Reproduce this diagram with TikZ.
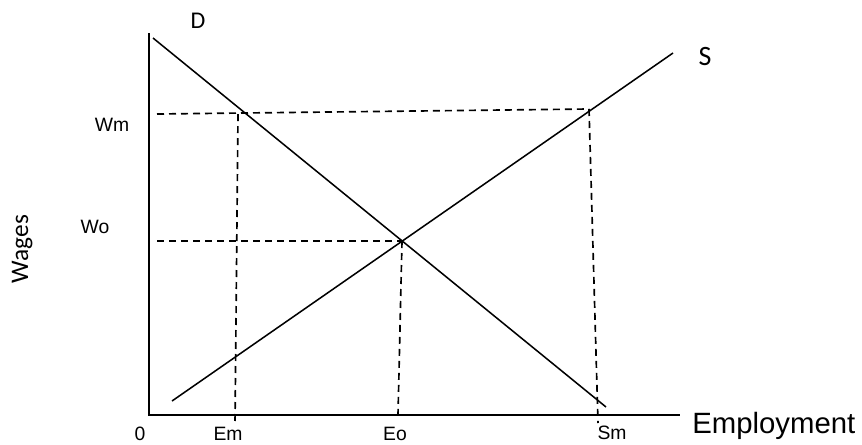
\documentclass[tikz,border=0pt]{standalone}
\usepackage{fontspec}
\setmainfont{Liberation Sans}
\newfontfamily\calfont{Carlito}
\begin{document}
\begin{tikzpicture}[x=0.75pt,y=-0.75pt,
    axis/.style={line width=1.5pt},
    curve/.style={line width=1.15pt},
    guide/.style={line width=1.25pt,dash pattern=on 5.25pt off 3.75pt},
    lbl/.style={inner sep=0pt,anchor=base,font=\fontsize{14.5}{17}\selectfont},
    curvelbl/.style={inner sep=0pt,anchor=base,font=\calfont\fontsize{18}{20}\selectfont}]
    \useasboundingbox (0,0) rectangle (862,444);
    % Axes
    \coordinate (top) at (149,33);
    \coordinate (origin) at (149,415);
    \coordinate (xend) at (680,415);
    \draw[axis] (top) -- (origin) -- (xend);
    % Demand and supply
    \coordinate (d1) at (153,38);
    \coordinate (d2) at (606,407);
    \coordinate (s1) at (172,401);
    \coordinate (s2) at (673,53);
    \draw[curve] (d1) -- (d2);
    \draw[curve] (s1) -- (s2);
    % Guide lines at the minimum wage
    \coordinate (wm1) at (157,114);
    \coordinate (wm2) at (589,109);
    \coordinate (em1) at (238,114);
    \coordinate (em2) at (235,425);
    \coordinate (sm2) at (598,423);
    \draw[guide] (wm1) -- (wm2);
    \draw[guide] (em1) -- (em2);
    \draw[guide] (wm2) -- (sm2);
    % Guide lines at the equilibrium
    \coordinate (eq) at (402,241);
    \coordinate (wo1) at (157,241);
    \coordinate (eo2) at (398,415);
    \draw[guide] (wo1) -- (eq);
    \draw[guide] (eq) -- (eo2);
    % Labels
    \node[curvelbl] (lD) at (198,28) {D};
    \node[curvelbl,font=\calfont\fontsize{21}{23}\selectfont] (lS) at (705,65) {S};
    \node[lbl] (lWm) at (112,131) {Wm};
    \node[lbl] (lWo) at (95,233) {Wo};
    \node[lbl,font=\calfont\fontsize{19}{21}\selectfont,rotate=90] (lWages) at (28,249) {Wages};
    \node[lbl] (l0) at (140,440) {0};
    \node[lbl] (lEm) at (228,440) {Em};
    \node[lbl] (lEo) at (395,440) {Eo};
    \node[lbl] (lSm) at (612,439) {Sm};
    \node[lbl,anchor=base west,font=\fontsize{22}{24}\selectfont] (lEmp) at (692,433) {Employment};
\end{tikzpicture}
\end{document}
